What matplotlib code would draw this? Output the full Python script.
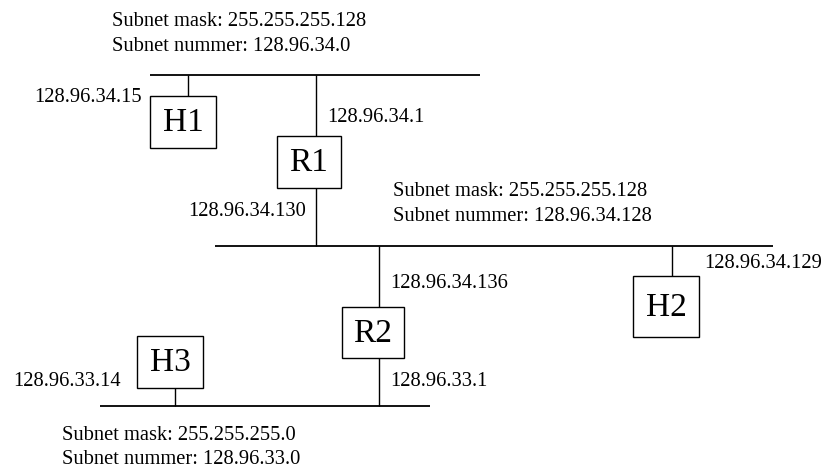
import matplotlib as mpl
mpl.use("Agg")
import matplotlib.pyplot as plt
from matplotlib.patches import Rectangle

# ## Network layout (pixel coordinates of the original drawing)
W, H = 824, 468
FONT = "Liberation Serif"

# buses: (x_start, x_end, y)
BUSES = [(150, 480, 75), (215, 773, 246), (100, 430, 406)]

# devices: name, (x0, y0, x1, y1) box
DEVICES = {
    "H1": (150, 96, 216, 148),
    "R1": (277, 136, 341, 188),
    "H2": (633, 276, 699, 337),
    "R2": (342, 307, 404, 358),
    "H3": (137, 336, 203, 388),
}

# stubs: x, y_top, y_bottom
STUBS = [(188, 75, 96), (316, 75, 136), (316, 188, 246),
         (379, 246, 307), (672, 246, 276), (379, 358, 406), (175, 388, 406)]

# interface addresses: text, x, y, horizontal alignment
ADDRESSES = [
    ("128.96.34.15", 142, 98, "right"),
    ("128.96.34.1", 327, 118, "left"),
    ("128.96.34.130", 306, 212, "right"),
    ("128.96.34.136", 390, 284, "left"),
    ("128.96.34.129", 704, 263, "left"),
    ("128.96.33.14", 13, 381, "left"),
    ("128.96.33.1", 390, 381, "left"),
]

# subnet info: mask, number, x, y of first line
SUBNETS = [
    ("255.255.255.128", "128.96.34.0", 112, 22),
    ("255.255.255.128", "128.96.34.128", 393, 192),
    ("255.255.255.0", "128.96.33.0", 62, 435),
]
LINE_GAP = 24.5


def main():
    fig = plt.figure(figsize=(W / 100, H / 100), dpi=100)
    ax = fig.add_axes([0, 0, 1, 1])
    ax.set_xlim(0, W)
    ax.set_ylim(H, 0)
    ax.axis("off")

    for x0, x1, y in BUSES:
        ax.plot([x0, x1], [y, y], color="black", linewidth=1.3, solid_capstyle="butt")
    for x, y0, y1 in STUBS:
        ax.plot([x, x], [y0, y1], color="black", linewidth=1.0, solid_capstyle="butt")

    for name, (x0, y0, x1, y1) in DEVICES.items():
        ax.add_patch(Rectangle((x0, y0), x1 - x0, y1 - y0, fill=False, edgecolor="black", linewidth=1.0))
        ax.text((x0 + x1) / 2, (y0 + y1) / 2 + 1, name, family=FONT, fontsize=24, ha="center", va="center")

    for text, x, y, ha in ADDRESSES:
        ax.text(x, y, text, family=FONT, fontsize=14.8, ha=ha, va="center")

    for mask, number, x, y in SUBNETS:
        ax.text(x, y, f"Subnet mask: {mask}", family=FONT, fontsize=14.8, ha="left", va="center")
        ax.text(x, y + LINE_GAP, f"Subnet nummer: {number}", family=FONT, fontsize=14.8, ha="left", va="center")

    fig.savefig("out.png", dpi=100)
    plt.close(fig)


if __name__ == "__main__":
    main()
